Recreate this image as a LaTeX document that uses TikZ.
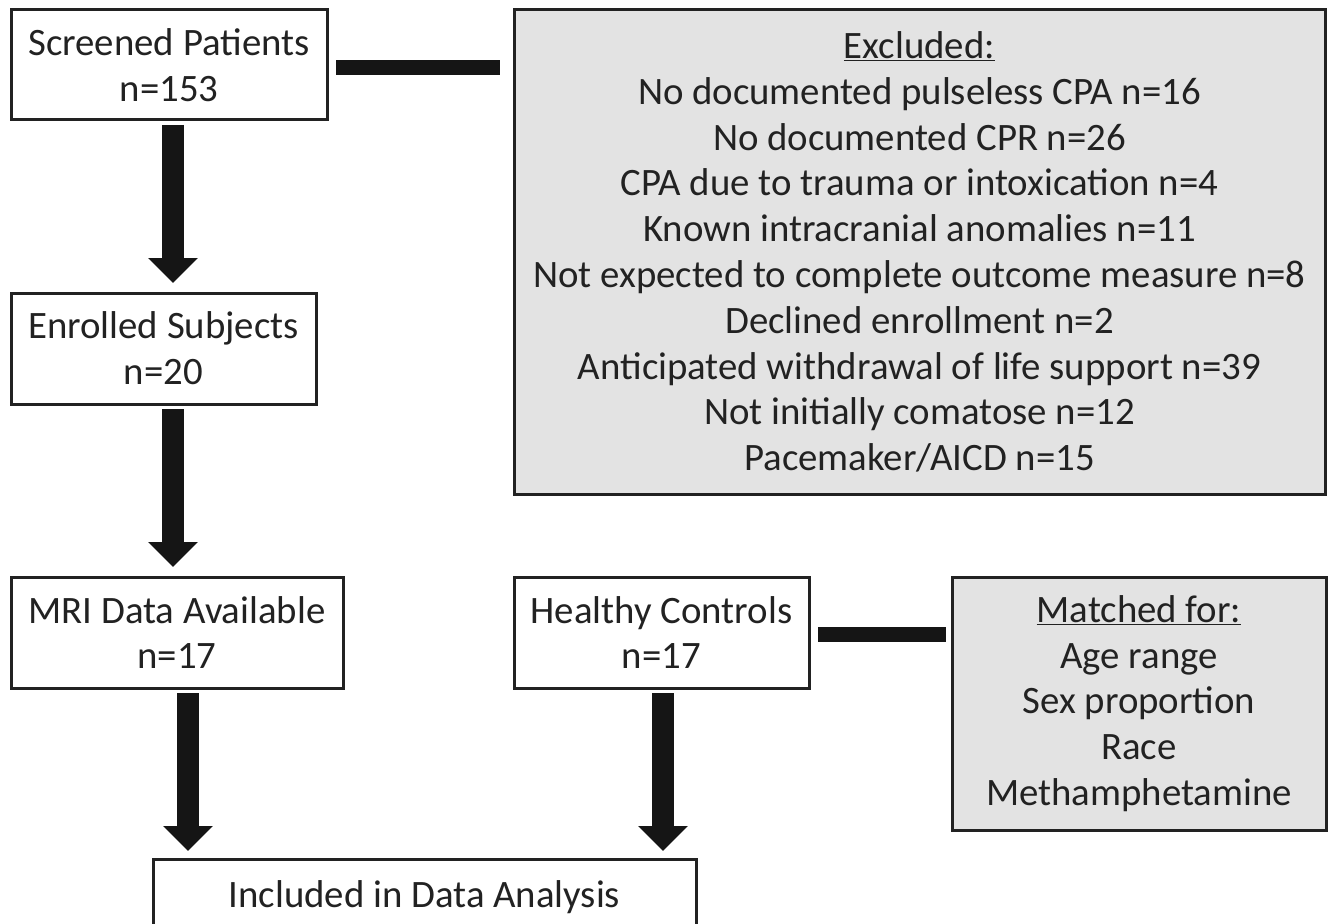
\documentclass[tikz,border=0pt]{standalone}
\usepackage{fontspec}
\setmainfont{Carlito}
\usetikzlibrary{arrows.meta}
\definecolor{boxgray}{HTML}{E3E3E3}
\definecolor{ink}{HTML}{222222}
\definecolor{arrowink}{HTML}{151515}
\begin{document}
\begin{tikzpicture}[x=1pt,y=-1pt,
  box/.style={draw=ink, line width=3pt, fill=white, inner sep=0pt, outer sep=0pt,
    align=center, text=ink, font=\fontsize{38.8}{45.8}\selectfont},
  graybox/.style={box, fill=boxgray},
  bigarrow/.style={draw=arrowink, line width=22pt, -{Triangle[width=48pt,length=25pt]}},
  bar/.style={draw=arrowink, line width=15pt}]
\useasboundingbox[fill=white] (0,0) rectangle (1332,923);

\node[box, minimum width=316pt, minimum height=110pt] (scr) at (169,65) {Screened Patients\\n=153};
\node[box, minimum width=305pt, minimum height=111pt] (enr) at (163.5,348.5) {Enrolled Subjects\\n=20};
\node[box, minimum width=332pt, minimum height=111pt] (mri) at (177,632.5) {MRI Data Available\\n=17};
\node[box, minimum width=295pt, minimum height=111pt] (hc) at (661.5,632.5) {Healthy Controls\\n=17};
\node[box, minimum width=543pt, minimum height=76pt] (inc) at (424.5,897) {Included in Data Analysis};

\node[graybox, minimum width=811pt, minimum height=484pt] (exc) at (919.5,252) {\underline{Excluded:}\\
No documented pulseless CPA n=16\\
No documented CPR n=26\\
CPA due to trauma or intoxication n=4\\
Known intracranial anomalies n=11\\
Not expected to complete outcome measure n=8\\
Declined enrollment n=2\\
Anticipated withdrawal of life support n=39\\
Not initially comatose n=12\\
Pacemaker/AICD n=15};

\node[graybox, minimum width=374pt, minimum height=253pt] (mat) at (1139,703.5) {\underline{Matched for:}\\
Age range\\
Sex proportion\\
Race\\
Methamphetamine};

\coordinate (a1) at (173,0);
\coordinate (aL) at (188,0);
\coordinate (aR) at (663,0);

\draw[bigarrow, shorten <=5pt, shorten >=10pt] (scr.south -| a1) -- (enr.north -| a1);
\draw[bigarrow, shorten <=5pt, shorten >=10pt] (enr.south -| a1) -- (mri.north -| a1);
\draw[bigarrow, shorten <=5pt, shorten >=8pt] (mri.south -| aL) -- (inc.north -| aL);
\draw[bigarrow, shorten <=5pt, shorten >=8pt] (hc.south -| aR) -- (inc.north -| aR);

\draw[bar, shorten <=9pt, shorten >=14pt] ([yshift=-3pt]scr.east) -- ([yshift=-3pt]scr.east -| exc.west);
\draw[bar, shorten <=9pt, shorten >=6pt] ([yshift=-2pt]hc.east) -- ([yshift=-2pt]hc.east -| mat.west);
\end{tikzpicture}
\end{document}
